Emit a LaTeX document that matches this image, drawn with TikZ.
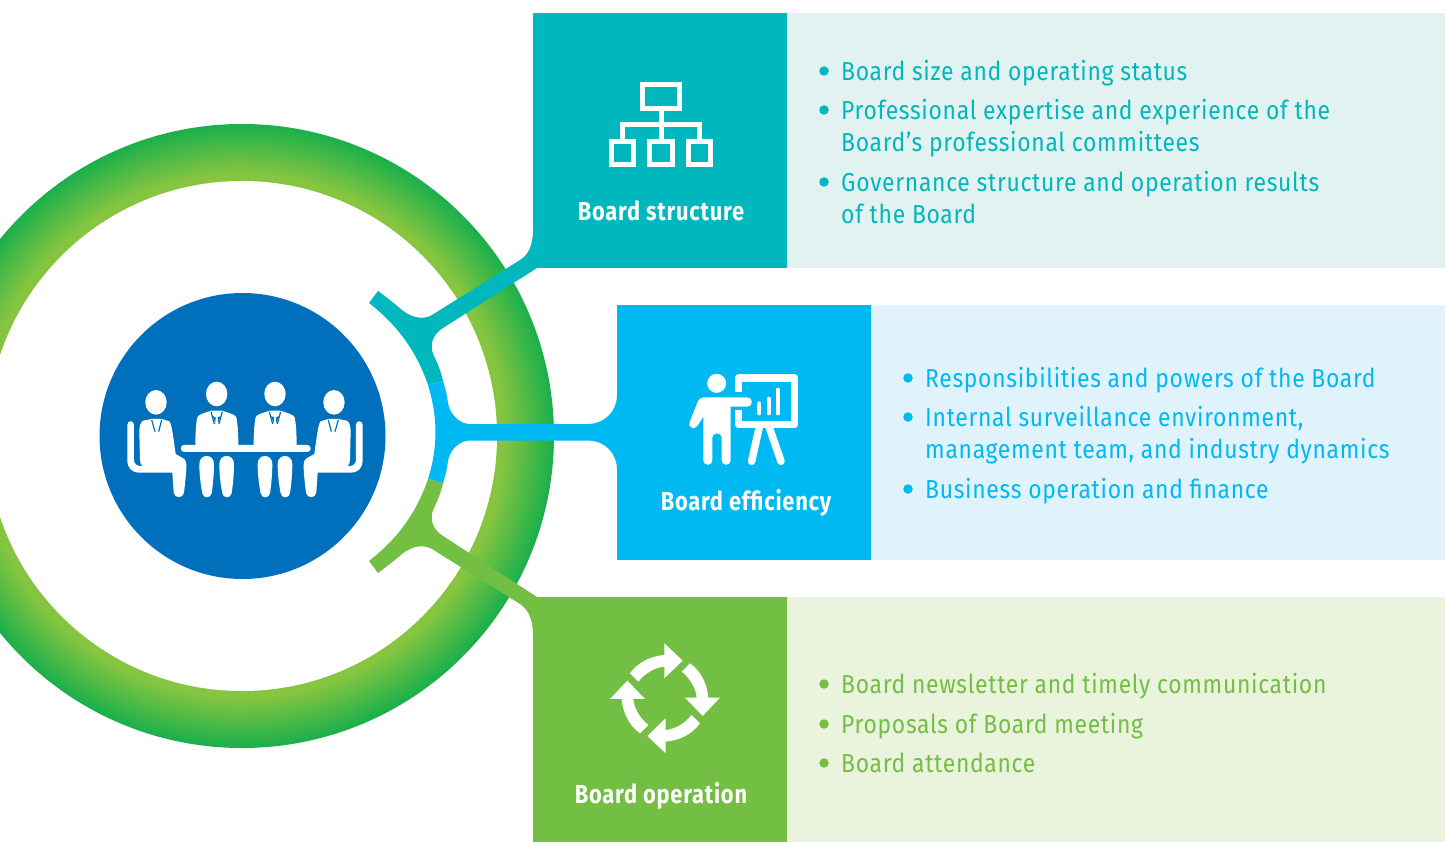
\documentclass[tikz,border=0pt]{standalone}
\usepackage{fontspec}
\setmainfont{Fira Sans}
\newfontfamily\itemfont[LetterSpace=2.7,FakeStretch=0.88]{Fira Sans}
\newfontfamily\labfont[LetterSpace=3,FakeStretch=0.84]{Fira Sans}
\definecolor{cteal}{HTML}{00B7BD}
\definecolor{cblue}{HTML}{00B9F2}
\definecolor{cgreen}{HTML}{72BF44}
\definecolor{lteal}{HTML}{E2F2F0}
\definecolor{lblue}{HTML}{E0F2FC}
\definecolor{lgreen}{HTML}{EAF3DC}
\definecolor{cnavy}{HTML}{0070BC}
\definecolor{ringin}{HTML}{86C540}
\definecolor{ringout}{HTML}{1BB04B}
\tikzset{
 box/.style={inner sep=0pt,outer sep=0pt,anchor=north west,minimum width=254pt},
 lab/.style={text=white,font=\labfont\bfseries\fontsize{26}{26}\selectfont,anchor=base,inner sep=0pt},
 item/.style={font=\itemfont\fontsize{26}{26}\selectfont,anchor=base west,inner sep=0pt},
 bul/.style={circle,inner sep=0pt,minimum size=9.5pt},
}
\begin{document}
\begin{tikzpicture}[x=1pt,y=-1pt]
\useasboundingbox (0,0) rectangle (1445,842);
\clip (0,0) rectangle (1445,842);
% ring
\foreach \r in {312,311,...,256}{
  \pgfmathtruncatemacro\p{min(100,(312-\r)*100/50)}
  \fill[ringin!\p!ringout] (242,436) circle (\r);
}
\fill[white] (242,436) circle (255);
\node[circle,fill=cnavy,minimum size=286pt,inner sep=0pt] (hub) at (242.5,436) {};
% panels
\node[box,fill=lteal,minimum width=658pt,minimum height=255pt] (p1) at (787,13) {};
\node[box,fill=lblue,minimum width=574pt,minimum height=255pt] (p2) at (871,305) {};
\node[box,fill=lgreen,minimum width=658pt,minimum height=245pt] (p3) at (787,597) {};
\node[box,fill=cteal,minimum height=255pt] (b1) at (533,13) {};
\node[box,fill=cblue,minimum height=255pt] (b2) at (617,305) {};
\node[box,fill=cgreen,minimum height=245pt] (b3) at (533,597) {};
% connectors
\fill[cteal] (533,230) .. controls (533,246) and (528,255) .. (520,260) -- (432,315)
  .. controls (423,320) and (412,318) .. (402,310) .. controls (394,303) and (386,297) .. (378,291)
  -- (369,303) .. controls (397,325) and (416,350) .. (428,385) -- (443,381)
  .. controls (441,372) and (438,364) .. (434,356) .. controls (429,346) and (432,335) .. (443,328)
  -- (537,268) -- (560,268) -- (560,230) -- cycle;
\fill[cblue] (428,385) .. controls (438,418) and (438,447) .. (428,479) -- (443,483)
  .. controls (446,474) and (447,468) .. (448,461) .. controls (450,449) and (460,440.5) .. (470,440.5)
  -- (587,440.5) .. controls (605,440.5) and (617,453) .. (617,470) -- (640,470) -- (640,395) -- (617,395)
  .. controls (617,411) and (605,424) .. (587,424) -- (470,424)
  .. controls (460,424) and (450,415) .. (448,403) .. controls (447,396) and (446,390) .. (443,381) -- cycle;
\fill[cgreen] (533,635) .. controls (533,619) and (528,609) .. (520,604) -- (432,549)
  .. controls (423,544) and (412,546) .. (402,554) .. controls (394,561) and (386,567) .. (378,573)
  -- (369,561) .. controls (397,539) and (416,514) .. (428,479) -- (443,483)
  .. controls (441,492) and (438,500) .. (434,508) .. controls (429,518) and (432,529) .. (443,536)
  -- (537,597) -- (560,597) -- (560,635) -- cycle;
% org icon
\draw[white,line width=5.4pt] (642.5,84.5) rectangle (679.5,108.5);
\draw[white,line width=5.4pt] (611.5,141.5) rectangle (633.5,164.5);
\draw[white,line width=5.4pt] (649.5,141.5) rectangle (672.5,164.5);
\draw[white,line width=5.4pt] (688.5,141.5) rectangle (710.5,164.5);
\draw[white,line width=5pt] (661,111) -- (661,139) (622.5,139) -- (622.5,125) -- (699.5,125) -- (699.5,139);
% presenter icon
\begin{scope}[shift={(670,360)},x=0.3333pt,y=-0.3333pt]
\fill[white] (140,70) circle (9.5pt);
\fill[white] (100,112) -- (232,112) .. controls (250,112) and (250,140) .. (232,140) -- (182,140)
 -- (182,298) .. controls (182,320) and (155,320) .. (155,298) -- (155,235) .. controls (155,215) and (127,215) .. (127,235)
 -- (127,298) .. controls (127,320) and (100,320) .. (100,298) -- (100,170) -- (82,198)
 .. controls (72,212) and (52,200) .. (59,186) -- (82,128) .. controls (86,118) and (92,112) .. (100,112) -- cycle;
\draw[white,line width=7.3pt,line join=round,line cap=butt] (206,97) -- (206,54) -- (374,54) -- (374,194) -- (206,194) -- (206,150);
\draw[white,line width=4pt,line cap=round] (268,130) -- (268,160) (296,116) -- (296,160) (323,89) -- (323,160);
\draw[white,line width=7.5pt,line cap=round] (268,200) -- (245,304) (297,200) -- (333,304);
\end{scope}
% cycle icon
\begin{scope}[shift={(665,698.3)},x=0.3333pt,y=-0.3333pt]
\foreach \a in {0,-90,-180,-270}{
 \fill[white,rotate=\a] (-105,-75) .. controls (-80,-110) and (-40,-127) .. (-2,-130) -- (-2,-165) -- (53,-113) -- (-2,-60) -- (-2,-95)
   .. controls (-30,-93) and (-60,-75) .. (-80,-50) -- cycle;
}
\end{scope}
% meeting icon
\begin{scope}[shift={(110,360)},x=0.3333pt,y=-0.3333pt]
\fill[white] (213,265) .. controls (213,255) and (220,255) .. (225,255) -- (593,255) .. controls (605,255) and (605,276) .. (593,276) -- (225,276) .. controls (220,276) and (213,275) .. (213,265) -- cycle;
\foreach \d in {0,175}{
 \begin{scope}[xshift=\d*0.3333pt]
 \fill[white] (320,102) ellipse (10.7pt and 12.3pt);
 \fill[white] (256,255) .. controls (256,220) and (258,190) .. (262,172) .. controls (263,164) and (285,158) .. (305,152)
   -- (335,152) .. controls (355,158) and (377,164) .. (379,172) .. controls (383,190) and (385,220) .. (385,255) -- cycle;
 \draw[cnavy,line width=1.2pt] (303,155) -- (313,192) (337,155) -- (327,192);
 \fill[cnavy] (308,168) -- (316,190) -- (317,172) -- cycle (332,168) -- (324,190) -- (323,172) -- cycle;
 \fill[white] (268,312) .. controls (268,280) and (312,280) .. (312,312) .. controls (312,345) and (308,380) .. (305,400)
   .. controls (302,416) and (280,416) .. (277,400) .. controls (273,380) and (268,345) .. (268,312) -- cycle;
 \fill[white] (328,312) .. controls (328,280) and (372,280) .. (372,312) .. controls (372,345) and (368,380) .. (365,400)
   .. controls (362,416) and (340,416) .. (337,400) .. controls (333,380) and (328,345) .. (328,312) -- cycle;
 \end{scope}
}
\foreach \m in {1,-1}{
 \begin{scope}[shift={(405,0)},xscale=\m,shift={(-405,0)}]
 \fill[white] (138,127) ellipse (10.7pt and 12.3pt);
 \fill[white] (88,215) .. controls (88,200) and (92,184) .. (100,182) -- (125,177) -- (155,177) -- (178,184) .. controls (186,190) and (192,250) .. (197,282)
   -- (220,295) .. controls (228,300) and (230,310) .. (229,325) .. controls (228,350) and (224,380) .. (222,398)
   .. controls (219,416) and (194,416) .. (191,398) -- (187,338) -- (90,338)
   .. controls (65,338) and (52,325) .. (52,300) -- (52,195) .. controls (52,180) and (72,180) .. (72,195) -- (72,298)
   .. controls (72,312) and (80,318) .. (92,318) -- (98,318) .. controls (92,314) and (90,308) .. (90,300) -- cycle;
 \draw[cnavy,line width=1.2pt] (125,180) -- (135,215) (155,180) -- (146,215);
 \end{scope}
}
\end{scope}
% labels
\node[lab] (l1) at (661,220.5) {Board structure};
\node[lab] (l2) at (746,510.5) {Board efficiency};
\node[lab] (l3) at (661,803.5) {Board operation};
% items teal
\begin{scope}[every node/.append style={text=cteal}]
\node[bul,fill=cteal] (d11) at (824,71) {};
\node[item] (t11) at (841,80.5) {Board size and operating status};
\node[bul,fill=cteal] (d12) at (824,110) {};
\node[item] (t12) at (841,119.5) {Professional expertise and experience of the};
\node[item] (t13) at (841,151.5) {Board’s professional committees};
\node[bul,fill=cteal] (d13) at (824,182) {};
\node[item] (t14) at (841,191.5) {Governance structure and operation results};
\node[item] (t15) at (841,223.5) {of the Board};
\end{scope}
\begin{scope}[every node/.append style={text=cblue}]
\node[bul,fill=cblue] (d21) at (908,378) {};
\node[item] (t21) at (925,387.3) {Responsibilities and powers of the Board};
\node[bul,fill=cblue] (d22) at (908,417) {};
\node[item] (t22) at (925,426.3) {Internal surveillance environment,};
\node[item] (t23) at (925,458.3) {management team, and industry dynamics};
\node[bul,fill=cblue] (d23) at (908,489) {};
\node[item] (t24) at (925,498.3) {Business operation and finance};
\end{scope}
\begin{scope}[every node/.append style={text=cgreen}]
\node[bul,fill=cgreen] (d31) at (824,684) {};
\node[item] (t31) at (841,693.3) {Board newsletter and timely communication};
\node[bul,fill=cgreen] (d32) at (824,724) {};
\node[item] (t32) at (841,733.3) {Proposals of Board meeting};
\node[bul,fill=cgreen] (d33) at (824,763) {};
\node[item] (t33) at (841,772.3) {Board attendance};
\end{scope}
\end{tikzpicture}
\end{document}
